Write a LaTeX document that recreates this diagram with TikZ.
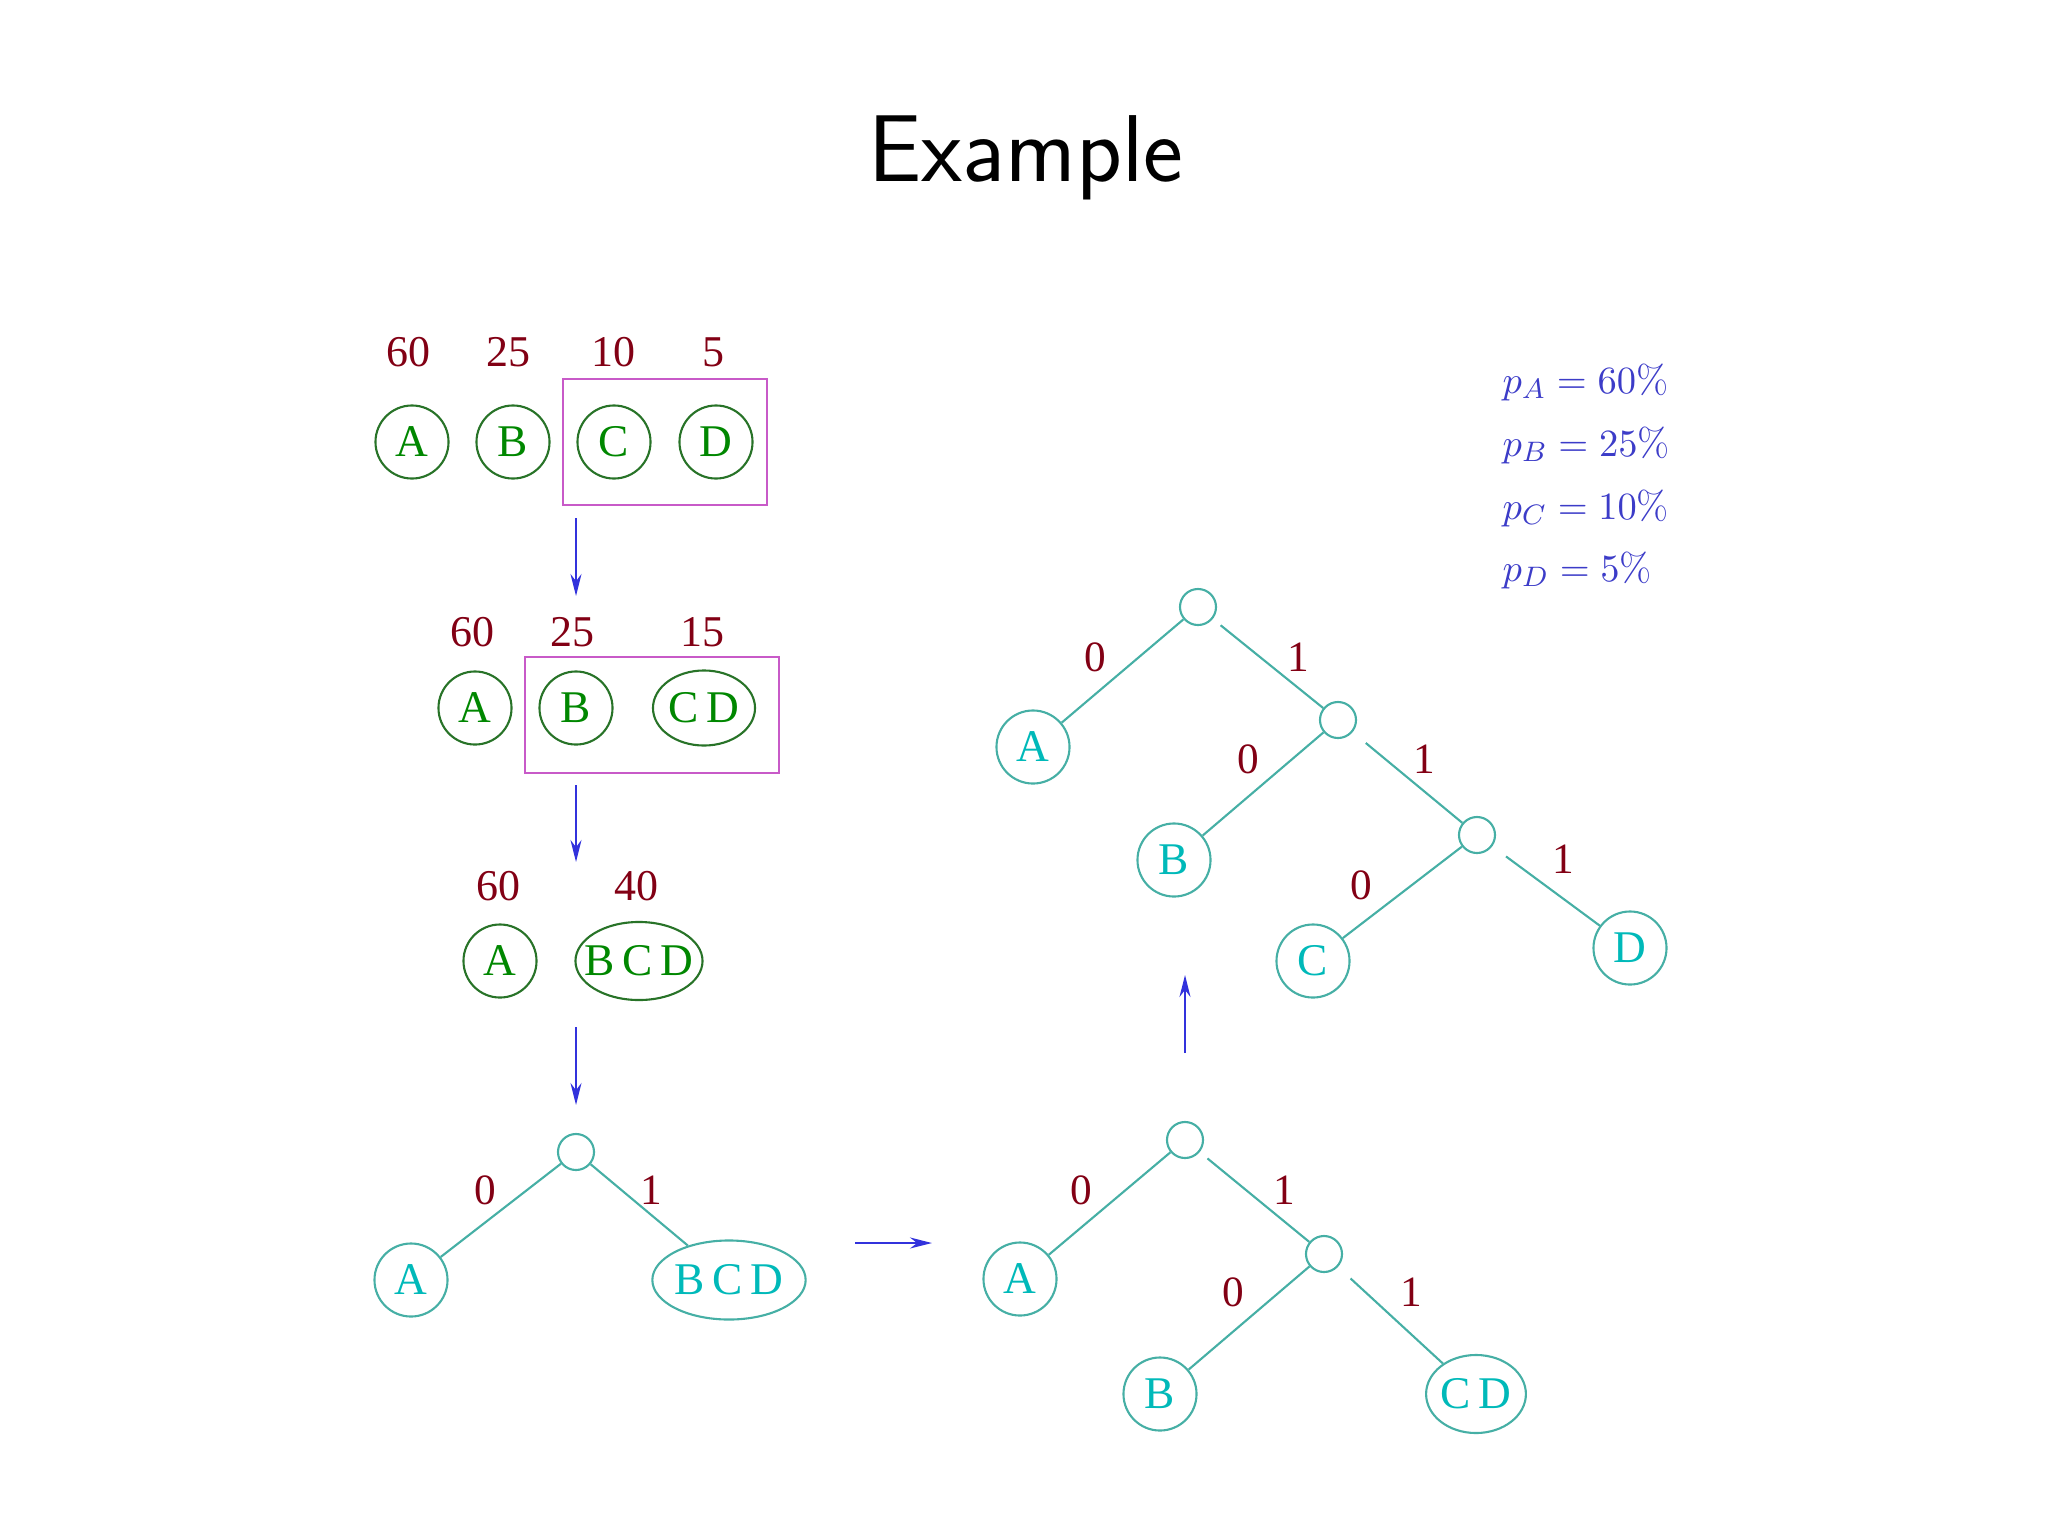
\documentclass[tikz,border=0pt]{standalone}
\usepackage{fontspec}
\newfontfamily\tms{Liberation Serif}
\usetikzlibrary{shapes.geometric,arrows.meta}
\definecolor{grn}{RGB}{0,135,0}
\definecolor{grnline}{RGB}{40,115,40}
\definecolor{lbl}{RGB}{130,0,20}
\definecolor{cyt}{RGB}{0,185,185}
\definecolor{cyl}{RGB}{70,175,165}
\definecolor{mag}{RGB}{200,90,200}
\definecolor{arr}{RGB}{50,50,220}
\definecolor{prob}{RGB}{60,60,200}
\begin{document}
\begin{tikzpicture}[x=0.01cm,y=-0.01cm,
  gcirc/.style={circle,draw=grnline,line width=0.6pt,text=grn,minimum size=7.3mm,inner sep=0pt,font=\tms\fontsize{12.9}{14}\selectfont},
  gell/.style={ellipse,draw=grnline,line width=0.6pt,text=grn,inner sep=0pt,font=\tms\fontsize{12.9}{14}\selectfont},
  ccirc/.style={circle,draw=cyl,line width=0.6pt,text=cyt,minimum size=7.3mm,inner sep=0pt,font=\tms\fontsize{12.9}{14}\selectfont},
  cell/.style={ellipse,draw=cyl,line width=0.6pt,text=cyt,inner sep=0pt,font=\tms\fontsize{12.9}{14}\selectfont},
  inode/.style={circle,draw=cyl,line width=0.6pt,minimum size=3.6mm,inner sep=0pt},
  num/.style={text=lbl,inner sep=0pt,font=\tms\fontsize{12.5}{14}\selectfont},
  bit/.style={text=lbl,inner sep=0pt,font=\tms\fontsize{12.3}{14}\selectfont},
  treeline/.style={draw=cyl,line width=0.6pt},
  gapright/.style={shorten <=0.17cm},
  gaproot/.style={shorten <=0.1cm},
  flowarrow/.style={draw=arr,line width=0.6pt,-{Stealth[length=2.2mm,width=1.1mm]}},
  grp/.style={draw=mag,line width=0.6pt},
  prb/.style={text=prob,anchor=base west,inner sep=0pt,font=\fontsize{11.2}{14}\selectfont}
]
\useasboundingbox (0,0) rectangle (2048,1536);

% title
\node[anchor=base,inner sep=0pt,font=\sffamily\fontsize{27}{30}\selectfont] (title) at (1026,181) {Example};

% row 1
\node[num] (n1a) at (408,352) {60};
\node[num] (n1b) at (508,352) {25};
\node[num] (n1c) at (613,352) {10};
\node[num] (n1d) at (713,352) {5};
\node[gcirc] (r1a) at (412,442) {A};
\node[gcirc] (r1b) at (513,442) {B};
\node[gcirc] (r1c) at (614,442) {C};
\node[gcirc] (r1d) at (716,442) {D};
\draw[grp] (563,379) rectangle (767,505);
\coordinate (a1s) at (576,518);
\coordinate (a1e) at (576,596);
\draw[flowarrow] (a1s) -- (a1e);

% row 2
\node[num] (n2a) at (472,632) {60};
\node[num] (n2b) at (572,632) {25};
\node[num] (n2c) at (702,632) {15};
\node[gcirc] (r2a) at (475,708) {A};
\node[gcirc] (r2b) at (576,708) {B};
\node[gell,minimum width=10.2mm,minimum height=7.5mm] (r2cd) at (704,708) {C\,D};
\draw[grp] (525,657) rectangle (779,773);
\coordinate (a2s) at (576,785);
\coordinate (a2e) at (576,862);
\draw[flowarrow] (a2s) -- (a2e);

% row 3
\node[num] (n3a) at (498,886) {60};
\node[num] (n3b) at (636,886) {40};
\node[gcirc] (r3a) at (500,961) {A};
\node[gell,inner xsep=-3pt,minimum width=12.7mm,minimum height=7.8mm] (r3bcd) at (639,961) {B\,C\,D};
\coordinate (a3s) at (576,1027);
\coordinate (a3e) at (576,1105);
\draw[flowarrow] (a3s) -- (a3e);

% tree 1 (bottom left)
\node[inode] (t1r) at (576,1152) {};
\node[ccirc] (t1a) at (411,1280) {A};
\node[cell,minimum width=15.3mm,minimum height=7.9mm] (t1bcd) at (729,1280) {B\,C\,D};
\draw[treeline] (t1r) -- (t1a);
\draw[treeline] (t1r) -- (t1bcd);
\node[bit] (t1l0) at (485,1190) {0};
\node[bit] (t1l1) at (651,1190) {1};

% horizontal arrow
\coordinate (hs) at (855,1243);
\coordinate (he) at (932,1243);
\draw[flowarrow] (hs) -- (he);

% tree 2 (bottom middle)
\node[inode] (t2r) at (1185,1140) {};
\node[ccirc] (t2a) at (1020,1279) {A};
\node[inode] (t2i) at (1324,1254) {};
\node[ccirc] (t2b) at (1160,1394) {B};
\node[cell,minimum width=9.8mm,minimum height=7.8mm] (t2cd) at (1476,1394) {C\,D};
\draw[treeline] (t2r) -- (t2a);
\draw[treeline,gaproot] (t2r) -- (t2i);
\draw[treeline] (t2i) -- (t2b);
\draw[treeline,gapright] (t2i) -- (t2cd);
\node[bit] (t2l0) at (1081,1190) {0};
\node[bit] (t2l1) at (1284,1190) {1};
\node[bit] (t2l2) at (1233,1292) {0};
\node[bit] (t2l3) at (1411,1292) {1};

% up arrow
\coordinate (us) at (1185,1053);
\coordinate (ue) at (1185,975);
\draw[flowarrow] (us) -- (ue);

% tree 3 (top right)
\node[inode] (t3r) at (1198,607) {};
\node[ccirc] (t3a) at (1033,747) {A};
\node[inode] (t3i) at (1338,720) {};
\node[ccirc] (t3b) at (1174,860) {B};
\node[inode] (t3j) at (1477,835) {};
\node[ccirc] (t3c) at (1313,961) {C};
\node[ccirc] (t3d) at (1630,948) {D};
\draw[treeline] (t3r) -- (t3a);
\draw[treeline,gaproot] (t3r) -- (t3i);
\draw[treeline] (t3i) -- (t3b);
\draw[treeline,gapright] (t3i) -- (t3j);
\draw[treeline] (t3j) -- (t3c);
\draw[treeline,gapright] (t3j) -- (t3d);
\node[bit] (t3l0) at (1095,657) {0};
\node[bit] (t3l1) at (1298,657) {1};
\node[bit] (t3l2) at (1248,759) {0};
\node[bit] (t3l3) at (1424,759) {1};
\node[bit] (t3l4) at (1361,885) {0};
\node[bit] (t3l5) at (1563,859) {1};

% probabilities
\node[prb] (pa) at (1502,393) {$p_A = 60\%$};
\node[prb] (pb) at (1502,456) {$p_B = 25\%$};
\node[prb] (pc) at (1502,519) {$p_C = 10\%$};
\node[prb] (pd) at (1502,581) {$p_D = 5\%$};
\end{tikzpicture}
\end{document}
